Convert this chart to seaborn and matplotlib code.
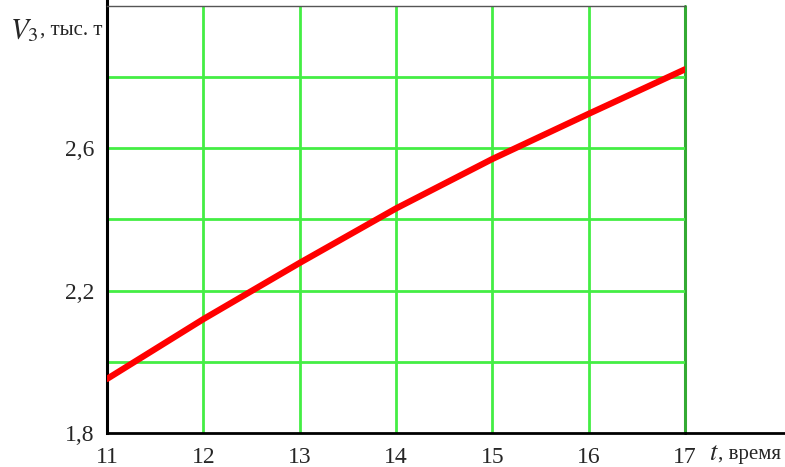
import matplotlib.pyplot as plt
import seaborn as sns
import pandas as pd

# значения
t_vals = [11, 12, 13, 14, 15, 16, 17]
v3_vals = [1.952, 2.120, 2.278, 2.431, 2.570, 2.697, 2.822]
x_ticks = [11, 12, 13, 14, 15, 16, 17]
y_grid = [1.8, 2.0, 2.2, 2.4, 2.6, 2.8, 3.0]
y_labels = [1.8, 2.2, 2.6]

sns.set_style("white")
plt.rcParams['font.family'] = ['Liberation Serif', 'DejaVu Serif']
plt.rcParams['mathtext.fontset'] = 'stix'

df = pd.DataFrame({'t': t_vals, 'V3': v3_vals})

fig = plt.figure(figsize=(7.85, 4.67), dpi=100)
ax = fig.add_axes([107 / 785, 34 / 467, 578 / 785, 427 / 467])

green = '#44ee44'
for x in x_ticks[1:-1]:
    ax.axvline(x, color=green, lw=2, zorder=1)
ax.axvline(x_ticks[-1], color='#33aa33', lw=2.2, zorder=1, clip_on=False)
for y in y_grid[1:-1]:
    ax.axhline(y, color=green, lw=2, zorder=1)

sns.lineplot(data=df, x='t', y='V3', color='red', lw=4.5, ax=ax, zorder=3)

ax.set_xlim(11, 17)
ax.set_ylim(1.8, 3.0)
ax.set_xticks(x_ticks)
ax.set_xticklabels([str(x) for x in x_ticks])
ax.set_yticks(y_labels)
ax.set_yticklabels([f'{y:.1f}'.replace('.', ',') for y in y_labels])
ax.tick_params(axis='x', length=0, labelsize=17, pad=10)
ax.tick_params(axis='y', length=0, labelsize=17, pad=9)
ax.set_xlabel('')
ax.set_ylabel('')

ax.spines['right'].set_visible(False)
ax.spines['top'].set_color('#555555')
ax.spines['top'].set_linewidth(1)
ax.spines['left'].set_color('black')
ax.spines['left'].set_linewidth(2.2)
ax.spines['bottom'].set_color('black')
ax.spines['bottom'].set_linewidth(2)

# продление осей
ax.plot([1, 1.175], [0, 0], transform=ax.transAxes, color='black', lw=2, clip_on=False)
ax.plot([0, 0], [1, 1.02], transform=ax.transAxes, color='black', lw=2.2, clip_on=False)

fig.text(10 / 785, 1 - 31 / 467, r'$V_3$', fontsize=21, va='center', ha='left')
fig.text(40 / 785, 1 - 30 / 467, ', тыс. т', fontsize=15, va='center', ha='left')
fig.text(709 / 785, 1 - 454 / 467, r'$t$', fontsize=19, va='center', ha='left')
fig.text(718 / 785, 1 - 455 / 467, ', время', fontsize=15, va='center', ha='left')

fig.savefig('out.png', dpi=100)
